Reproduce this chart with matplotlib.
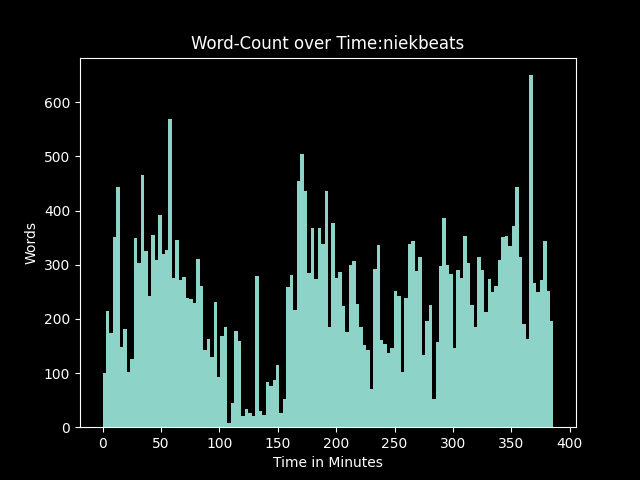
import numpy as np
import matplotlib
matplotlib.use("Agg")
import matplotlib.pyplot as plt

plt.style.use("dark_background")

t_start = 0.0
t_end = 386.0
words = [100, 214, 174, 351, 443, 148, 181, 102, 126, 349,
         303, 465, 325, 242, 354, 308, 391, 319, 327, 570,
         275, 345, 271, 277, 238, 236, 229, 310, 260, 142,
         162, 129, 231, 92, 168, 185, 8, 44, 177, 159,
         20, 33, 26, 20, 279, 30, 22, 83, 77, 87,
         114, 26, 52, 258, 281, 216, 454, 504, 436, 284,
         367, 273, 367, 338, 437, 185, 377, 275, 286, 223,
         175, 299, 306, 227, 185, 151, 142, 70, 293, 336,
         161, 153, 137, 146, 251, 242, 102, 238, 338, 343,
         288, 314, 133, 196, 225, 52, 157, 297, 386, 299,
         282, 146, 290, 275, 353, 303, 225, 185, 314, 290,
         212, 273, 249, 260, 308, 351, 353, 334, 371, 443,
         314, 190, 162, 650, 266, 249, 271, 343, 251, 196]

edges = np.linspace(t_start, t_end, len(words) + 1)

fig, ax = plt.subplots(figsize=(6.4, 4.8), dpi=100)
ax.bar(edges[:-1], words, width=np.diff(edges), align="edge", color="#8dd3c7")
ax.set_title("Word-Count over Time:niekbeats")
ax.set_xlabel("Time in Minutes")
ax.set_ylabel("Words")
fig.savefig("out.png", dpi=100)
